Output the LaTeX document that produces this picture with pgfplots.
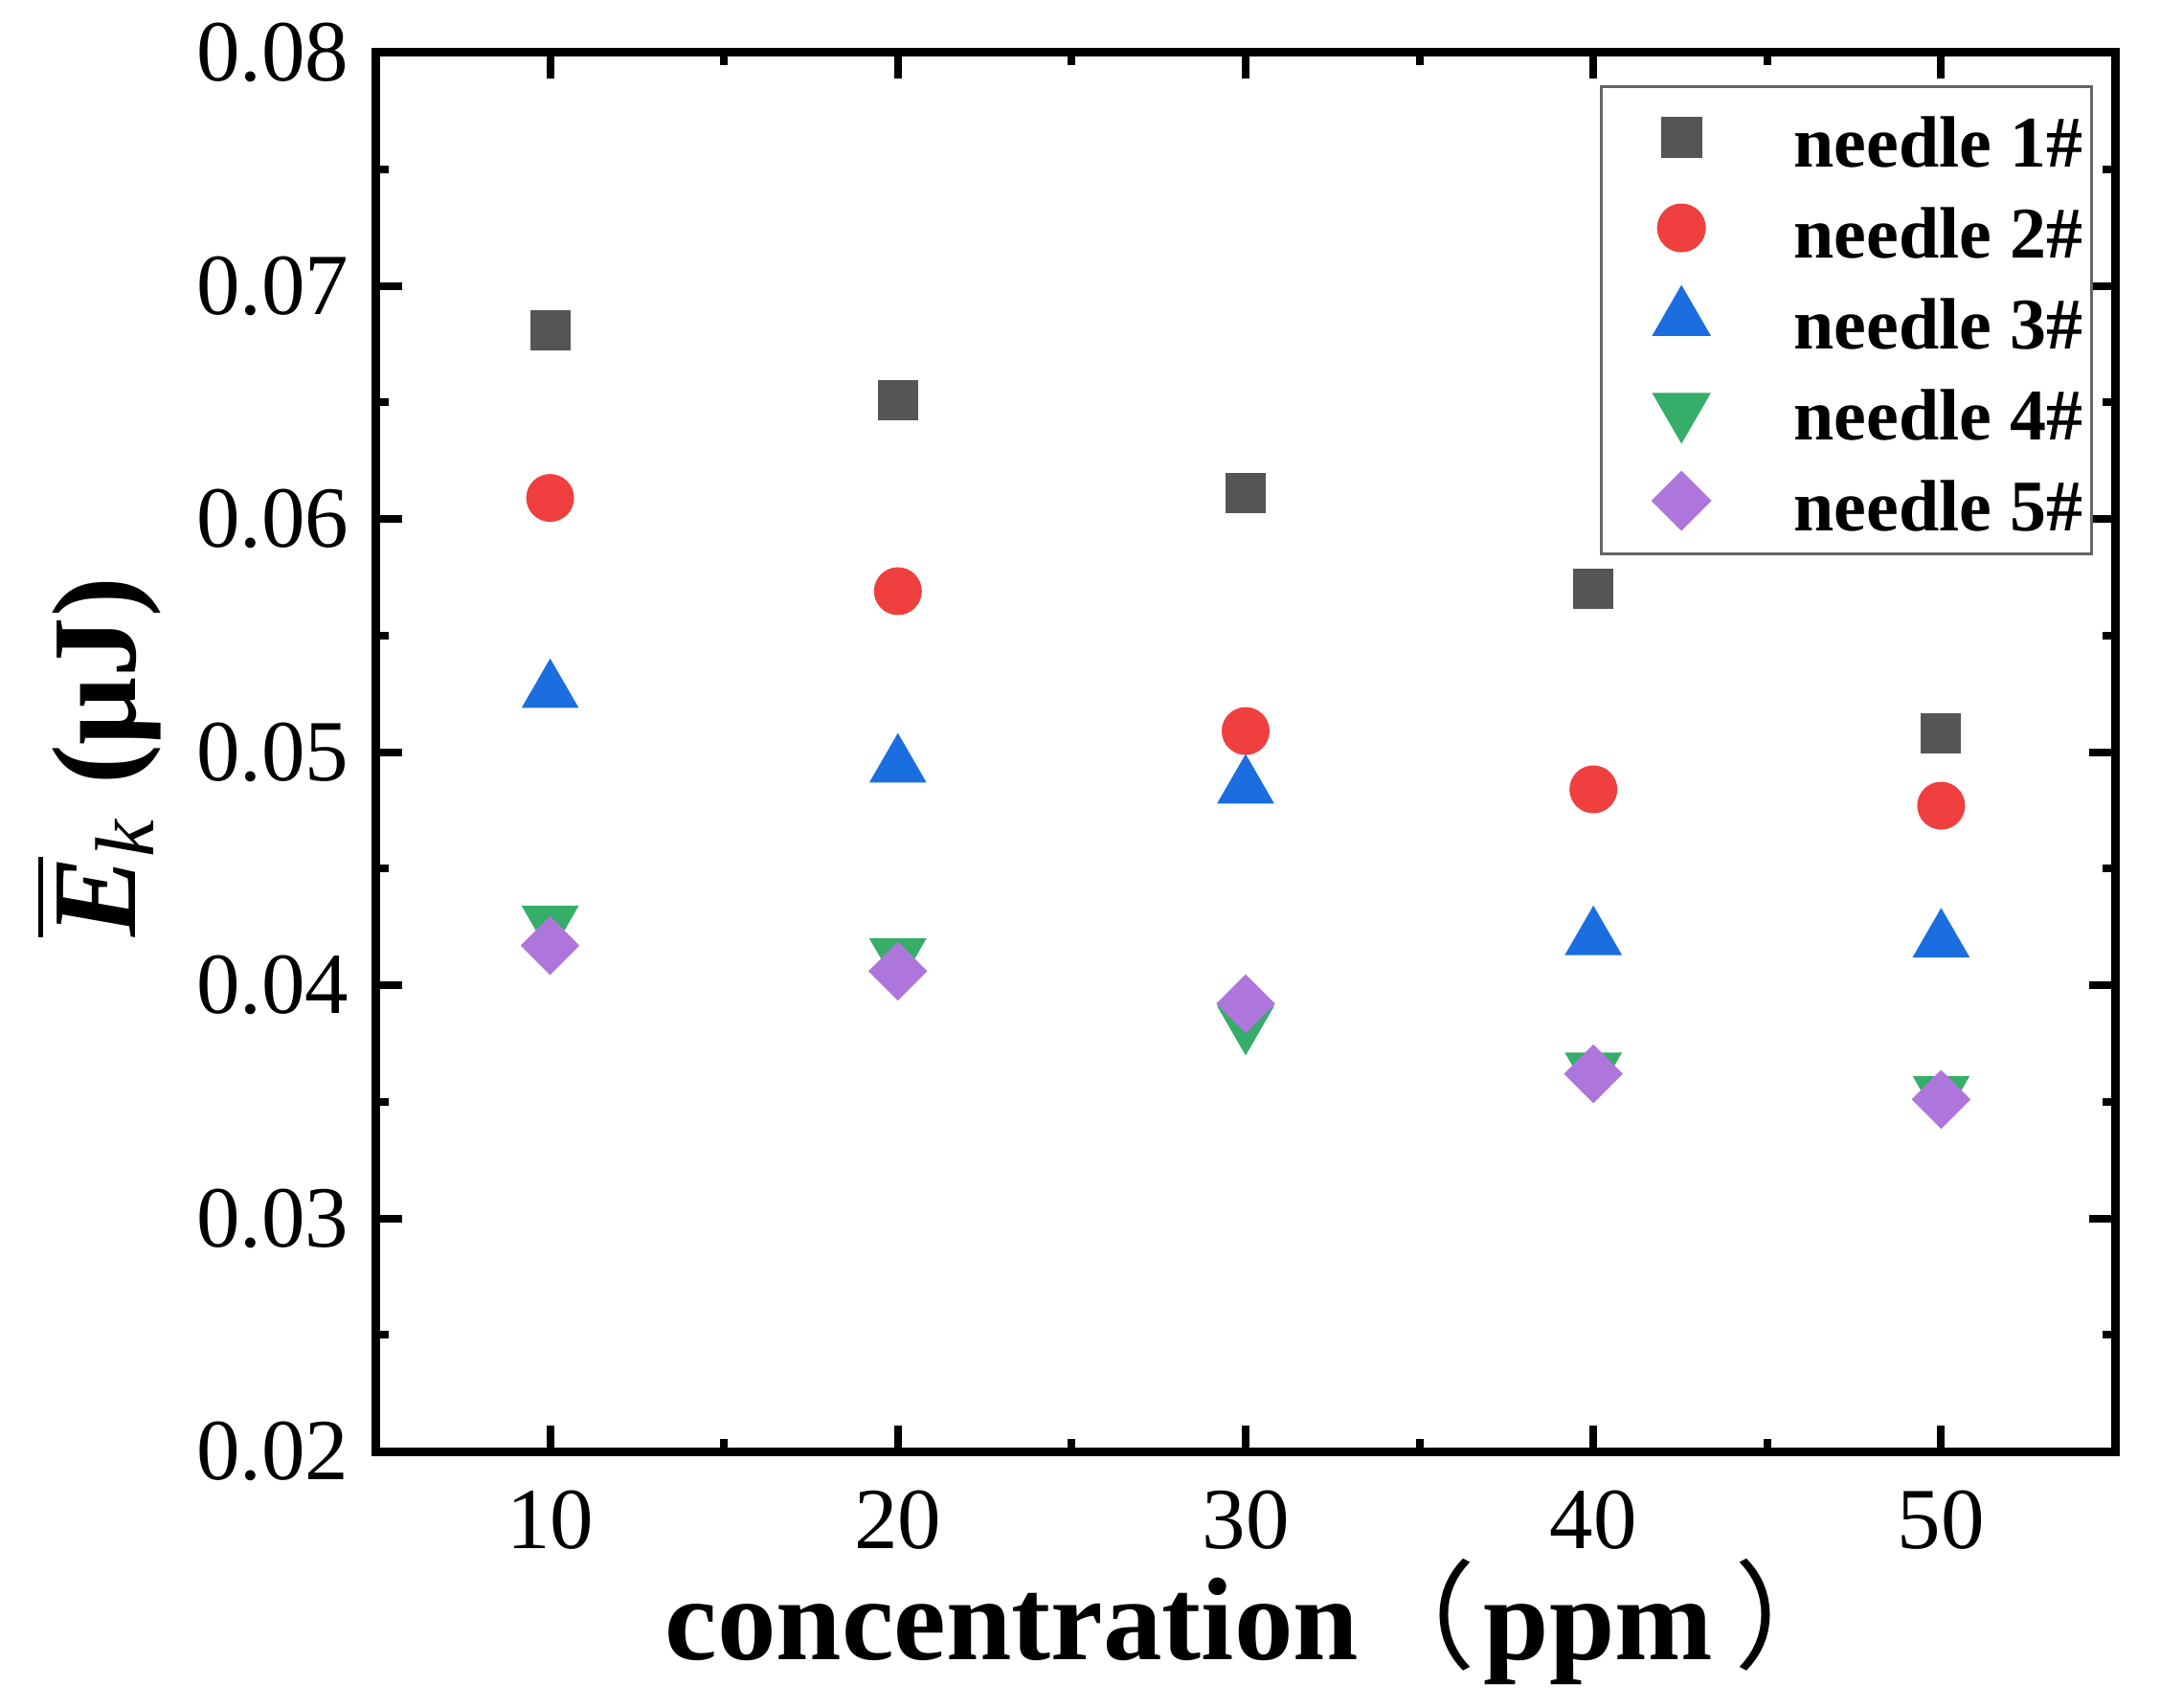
\documentclass[border=0pt]{standalone}
\usepackage{fontspec}
\setmainfont{Liberation Serif}
\newfontfamily\cjk{Noto Sans CJK SC}
\usepackage{amsmath}
\usepackage{pgfplots}
\pgfplotsset{compat=1.18}
\definecolor{c1}{HTML}{555555}
\definecolor{c2}{HTML}{F03F3F}
\definecolor{c3}{HTML}{1A6EE0}
\definecolor{c4}{HTML}{36AD69}
\definecolor{c5}{HTML}{AE76DC}
\pgfplotsset{mylegend/.style={legend image code/.code={%
  \path[draw=none,fill=none] (0pt,-2.6pt) rectangle (29.9pt,14.4pt);
  \draw[mark repeat=2,mark phase=2,##1] plot coordinates {(0pt,6.2pt) (14.95pt,6.2pt) (29.9pt,6.2pt)};}}}
\begin{document}
\begin{tikzpicture}
\path[use as bounding box] (-78.6pt,-53.4pt) rectangle (372.6pt,303.2pt);
\begin{axis}[
  at={(0pt,0pt)}, anchor=south west,
  scale only axis, width=363.2pt, height=292.2pt,
  xmin=5, xmax=55, ymin=0.02, ymax=0.08,
  xtick={10,20,30,40,50},
  ytick={0.02,0.03,0.04,0.05,0.06,0.07,0.08},
  minor x tick num=1, minor y tick num=1,
  tick align=inside,
  scaled y ticks=false,
  axis line style={line width=1.8pt, line join=miter},
  major tick style={line width=1.6pt, black},
  minor tick style={line width=1.6pt, black},
  major tick length=5.5pt, minor tick length=2.7pt,
  tick label style={font=\fontsize{18.2}{20}\selectfont},
  /pgf/number format/assume math mode=true,
  yticklabel style={/pgf/number format/fixed, /pgf/number format/fixed zerofill, /pgf/number format/precision=2, xshift=-2.2pt},
  xticklabel style={anchor=base, yshift=-20.2pt},
  xlabel={\bfseries concentration{\cjk\mdseries （}\kern1.6pt ppm\kern4.4pt{\cjk\mdseries ）}},
  ylabel={$\overline{\text{\bfseries\itshape E}}_{\text{\itshape k}}$\hspace{6.8pt}\textbf{(μJ)}},
  every axis x label/.style={at={(axis description cs:0.5,0)}, xshift=2.7pt, yshift=-43.4pt, anchor=base, font=\fontsize{24.6}{27}\selectfont},
  every axis y label/.style={at={(axis description cs:0,0.5)}, xshift=-50.2pt, yshift=-1.1pt, anchor=base, rotate=90, font=\fontsize{25}{28}\selectfont},
  legend style={at={(rel axis cs:0.9871,0.9767)}, anchor=north east, draw=black!60, line width=0.6pt,
    inner xsep=1.76pt, inner ysep=2.3pt, column sep=8.5pt, row sep=2.0pt,
    font=\bfseries\fontsize{15.2}{18}\selectfont,
    nodes={inner xsep=0pt, inner ysep=0pt, anchor=base west}},
]
\addplot[only marks, mark=square*, mark size=4.0pt, color=c1, mylegend] coordinates {(10,0.0681) (20,0.0651) (30,0.0611) (40,0.0570) (50,0.0508)};
\addlegendentry{needle 1\#}
\addplot[only marks, mark=*, mark size=4.8pt, color=c2, mylegend] coordinates {(10,0.0609) (20,0.0569) (30,0.0509) (40,0.0484) (50,0.0477)};
\addlegendentry{needle 2\#}
\addplot[only marks, mark=triangle*, mark size=6.5pt, color=c3, mylegend] coordinates {(10,0.0526) (20,0.0494) (30,0.0485) (40,0.0420) (50,0.0419)};
\addlegendentry{needle 3\#}
\addplot[only marks, mark=triangle*, mark size=6.5pt, mark options={rotate=180}, color=c4, mylegend] coordinates {(10,0.0427) (20,0.0413) (30,0.0384) (40,0.0364) (50,0.0354)};
\addlegendentry{needle 4\#}
\addplot[only marks, mark=square*, mark size=4.15pt, mark options={rotate=45}, color=c5, mylegend] coordinates {(10,0.0417) (20,0.0406) (30,0.0392) (40,0.0362) (50,0.0351)};
\addlegendentry{needle 5\#}
\end{axis}
\end{tikzpicture}
\end{document}
